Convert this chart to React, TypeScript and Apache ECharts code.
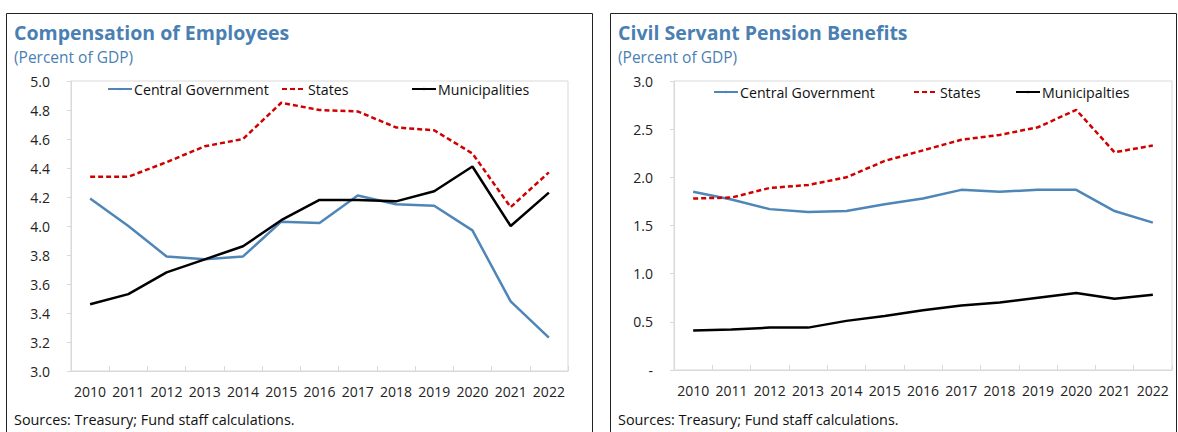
import React, { useEffect, useRef } from "react";
import * as echarts from "echarts";

const years = ["2010","2011","2012","2013","2014","2015","2016","2017","2018","2019","2020","2021","2022"];

const compCentral = [4.19, 4.0, 3.79, 3.77, 3.79, 4.03, 4.02, 4.21, 4.15, 4.14, 3.97, 3.48, 3.23];
const compStates = [4.34, 4.34, 4.44, 4.55, 4.6, 4.85, 4.8, 4.79, 4.68, 4.66, 4.5, 4.13, 4.37];
const compMunicipal = [3.46, 3.53, 3.68, 3.77, 3.86, 4.04, 4.18, 4.18, 4.17, 4.24, 4.41, 4.0, 4.23];

const penCentral = [1.85, 1.77, 1.67, 1.64, 1.65, 1.72, 1.78, 1.87, 1.85, 1.87, 1.87, 1.65, 1.53];
const penStates = [1.78, 1.79, 1.89, 1.92, 2.0, 2.17, 2.28, 2.39, 2.44, 2.52, 2.7, 2.26, 2.33];
const penMunicipal = [0.41, 0.42, 0.44, 0.44, 0.51, 0.56, 0.62, 0.67, 0.7, 0.75, 0.8, 0.74, 0.78];

const FONT = "'Open Sans', 'Noto Sans', sans-serif";
const BLUE = "#4f86b8";
const RED = "#d00000";
const TITLE = "#4a7fb3";
const GRID = "#d9d9d9";

function mkX(gridIndex: number) {
  return {
    type: "category",
    gridIndex,
    data: years,
    boundaryGap: true,
    axisLine: { lineStyle: { color: GRID, width: 1 } },
    axisTick: { show: true, inside: true, length: 5, lineStyle: { color: GRID } },
    axisLabel: { color: "#222", fontSize: 14, fontFamily: FONT, margin: 13, interval: 0, hideOverlap: false },
    splitLine: { show: false },
  };
}

function mkY(gridIndex: number, min: number, max: number, interval: number, fmt: (v: number) => string) {
  return {
    type: "value",
    gridIndex,
    min,
    max,
    interval,
    axisLine: { show: true, lineStyle: { color: GRID, width: 1 } },
    axisTick: { show: true, length: 4, lineStyle: { color: GRID } },
    axisLabel: { color: "#222", fontSize: 14, fontFamily: FONT, margin: 21, formatter: fmt },
    splitLine: { show: false },
  };
}

function line(name: string, data: number[], idx: number, color: string, dashed: boolean) {
  return {
    type: "line",
    name,
    data,
    xAxisIndex: idx,
    yAxisIndex: idx,
    symbol: "none",
    lineStyle: { color, width: 2.5, type: dashed ? [5, 3] : "solid" },
    itemStyle: { color },
  };
}

function leg(name: string, left: number, top: number) {
  return {
    data: [name],
    left,
    top,
    itemWidth: 24,
    itemHeight: 3,
    itemGap: 0,
    padding: 0,
    textStyle: { color: "#111", fontSize: 14.2, fontFamily: FONT, padding: [0, 0, 0, -3] },
  };
}

function ttl(text: string, left: number, top: number, size: number, bold: boolean, color: string) {
  return { text, left, top, padding: 0, textStyle: { color, fontSize: size, fontWeight: bold ? "bold" : "normal", fontFamily: FONT } };
}

export default function App() {
  const ref = useRef<HTMLDivElement>(null);
  useEffect(() => {
    if (!ref.current) return;
    const chart = echarts.init(ref.current, null, { renderer: "svg" });
    chart.setOption({
      animation: false,
      backgroundColor: "#fff",
      title: [
        ttl("Compensation of Employees", 14, 22, 19.5, true, TITLE),
        ttl("(Percent of GDP)", 14, 49, 15.5, false, TITLE),
        ttl("Sources: Treasury; Fund staff calculations.", 14, 412, 14.4, false, "#111"),
        ttl("Civil Servant Pension Benefits", 618, 22, 19.5, true, TITLE),
        ttl("(Percent of GDP)", 618, 49, 15.5, false, TITLE),
        ttl("Sources: Treasury; Fund staff calculations.", 618, 412, 14.4, false, "#111"),
      ],
      legend: [
        leg("Central Government", 107, 82),
        leg("States", 281, 82),
        leg("Municipalities", 411, 82),
        leg("Central Government", 713, 85),
        leg("States", 913, 85),
        leg("Municipalties", 1015, 85),
      ],
      grid: [
        { left: 71, top: 81, width: 497, height: 290, show: true, borderColor: GRID, borderWidth: 1, backgroundColor: "transparent" },
        { left: 674, top: 81, width: 498, height: 289, show: true, borderColor: GRID, borderWidth: 1, backgroundColor: "transparent" },
      ],
      xAxis: [mkX(0), mkX(1)],
      yAxis: [
        mkY(0, 3, 5, 0.2, (v: number) => v.toFixed(1)),
        mkY(1, 0, 3, 0.5, (v: number) => (v === 0 ? "-" : v.toFixed(1))),
      ],
      series: [
        line("Central Government", compCentral, 0, BLUE, false),
        line("States", compStates, 0, RED, true),
        line("Municipalities", compMunicipal, 0, "#000", false),
        line("Central Government", penCentral, 1, BLUE, false),
        line("States", penStates, 1, RED, true),
        line("Municipalties", penMunicipal, 1, "#000", false),
      ],
      graphic: [
        { type: "rect", shape: { x: 6.5, y: 13.5, width: 586, height: 440 }, style: { fill: "none", stroke: "#222", lineWidth: 1 }, silent: true },
        { type: "rect", shape: { x: 610.5, y: 13.5, width: 566, height: 440 }, style: { fill: "none", stroke: "#222", lineWidth: 1 }, silent: true },
      ],
    });
    return () => chart.dispose();
  }, []);
  return <div ref={ref} style={{ position: "fixed", left: 0, top: 0, width: 1178, height: 432 }} />;
}
